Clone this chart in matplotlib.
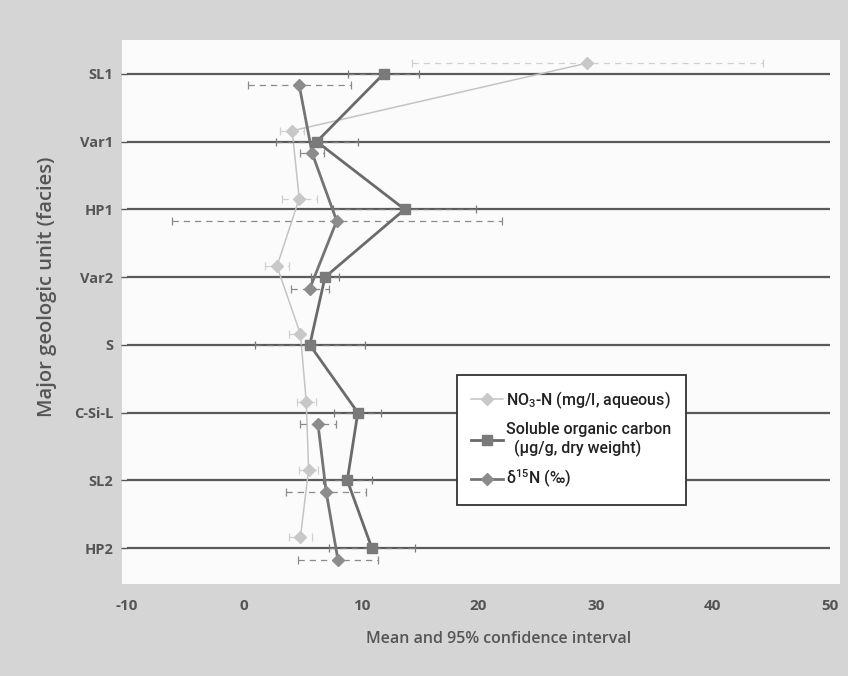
import numpy as np
import matplotlib
matplotlib.use('Agg')
import matplotlib.pyplot as plt
from matplotlib.lines import Line2D

plt.rcParams['font.family'] = ['Open Sans', 'DejaVu Sans']
plt.rcParams['mathtext.fontset'] = 'custom'
plt.rcParams['mathtext.rm'] = 'Roboto:medium'
plt.rcParams['mathtext.it'] = 'Roboto:medium'
plt.rcParams['mathtext.bf'] = 'Roboto:bold'
plt.rcParams['axes.unicode_minus'] = False

# Unidades geológicas (de arriba a abajo)
unidades = ['SL1', 'Var1', 'HP1', 'Var2', 'S', 'C-Si-L', 'SL2', 'HP2']

# NO3-N (mg/l, acuoso): media e intervalo 95%
no3 = [29.3, 4.1, 4.7, 2.8, 4.8, 5.3, 5.5, 4.8]
no3_ic = [15.0, 1.0, 1.5, 1.0, 1.0, 0.8, 0.8, 1.0]

# Carbono orgánico soluble (ug/g, peso seco)
coc = [11.9, 6.2, 13.7, 6.9, 5.6, 9.7, 8.8, 10.9]
coc_ic = [3.0, 3.5, 6.1, 1.2, 4.7, 2.0, 2.1, 3.7]

# delta 15N (permil) - sin dato en S
d15n = [4.7, 5.8, 7.9, 5.6, np.nan, 6.3, 7.0, 8.0]
d15n_ic = [4.4, 1.0, 14.1, 1.6, np.nan, 1.5, 3.4, 3.4]

gris_texto = '#555555'

fig = plt.figure(figsize=(8.48, 6.76), dpi=100, facecolor='#d5d5d5')
# panel blanco detrás del área de trazado
fig.patches.append(plt.Rectangle((122 / 848, 1 - 584 / 676), (840 - 122) / 848, (584 - 40) / 676,
                                 transform=fig.transFigure, facecolor='#fbfbfb',
                                 edgecolor='none', zorder=-10))
ax = fig.add_axes([127 / 848, 1 - 582 / 676, (830 - 127) / 848, (582 - 40) / 676])
ax.set_facecolor('none')

pos = np.arange(len(unidades))

# líneas horizontales por unidad
for p in pos:
    ax.axhline(p, color='#5a5a5a', lw=1.6, zorder=1)

def serie(valores, ic, offset, color, ecolor, lw, marker, ms, mcolor, z):
    y = pos + offset
    eb = ax.errorbar(valores, y, xerr=ic, fmt='none', ecolor=ecolor, elinewidth=0.9,
                     capsize=3, capthick=0.9, zorder=z)
    eb[2][0].set_linestyle((0, (5, 4)))
    ax.plot(valores, y, color=color, lw=lw, marker=marker, ms=ms,
            mfc=mcolor, mec=mcolor, zorder=z + 1)

serie(no3, no3_ic, -0.16, '#c4c4c4', '#d0d0d0', 1.1, 'D', 6, '#c8c8c8', 2)
serie(coc, coc_ic, 0.0, '#6a6a6a', '#7a7a7a', 2.0, 's', 7, '#7a7a7a', 4)
serie(d15n, d15n_ic, 0.17, '#747474', '#8a8a8a', 2.0, 'D', 6, '#8c8c8c', 3)

ax.set_xlim(-10, 50)
ax.set_ylim(7.5, -0.5)
ax.set_xticks(range(-10, 51, 10))
ax.set_yticks(pos)
ax.set_yticklabels(unidades)
for s in ax.spines.values():
    s.set_visible(False)
ax.tick_params(axis='y', length=4, width=1, color=gris_texto, pad=6,
               labelsize=10.5, labelcolor=gris_texto)
ax.tick_params(axis='x', length=0, pad=12, labelsize=11, labelcolor=gris_texto)
for t in ax.get_yticklabels() + ax.get_xticklabels():
    t.set_fontweight('bold')

ax.set_xlabel('Mean and 95% confidence interval', fontsize=11.5, color=gris_texto,
              fontweight='semibold')
ax.xaxis.set_label_coords(0.528, -0.09)
ax.set_ylabel('Major geologic unit (facies)', fontsize=14.5, color=gris_texto,
              fontweight='semibold')
ax.yaxis.set_label_coords(-0.10, 0.544)

handles = [
    Line2D([], [], color='#c4c4c4', lw=1.1, marker='D', ms=6, mfc='#c8c8c8', mec='#c8c8c8'),
    Line2D([], [], color='#6a6a6a', lw=2.0, marker='s', ms=7, mfc='#7a7a7a', mec='#7a7a7a'),
    Line2D([], [], color='#747474', lw=2.0, marker='D', ms=6, mfc='#8c8c8c', mec='#8c8c8c'),
]
etiquetas = ['NO$_3$-N (mg/l, aqueous)',
             'Soluble organic carbon\n  (µg/g, dry weight)',
             'δ$^{15}$N (‰)']
leg = ax.legend(handles, etiquetas, loc='upper left', bbox_to_anchor=(0.458, 0.397),
                prop={'family': ['Roboto', 'DejaVu Sans'], 'weight': 'medium', 'size': 11.5},
                frameon=True, fancybox=False, handlelength=2.0,
                handletextpad=0.2, borderpad=0.9, labelspacing=0.7,
                framealpha=1, facecolor='white', edgecolor='#333333')
leg.get_frame().set_linewidth(1.3)
for t in leg.get_texts():
    t.set_color('#222222')

fig.savefig('out.png', dpi=100, facecolor=fig.get_facecolor())
